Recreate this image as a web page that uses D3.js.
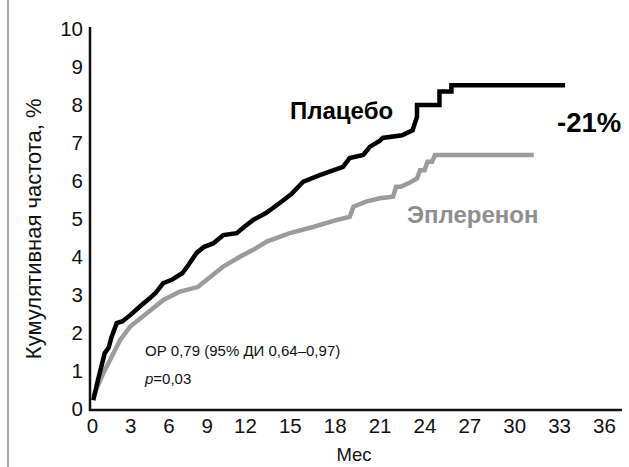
<!DOCTYPE html>
<html><head><meta charset="utf-8">
<script src="https://cdn.jsdelivr.net/npm/d3@7"></script>
<style>
html,body{margin:0;padding:0;background:#fff;}
svg{display:block;font-family:"Liberation Sans",Arial,Helvetica,sans-serif;}
</style></head>
<body>
<svg id="chart" width="629" height="467"></svg>
<script>
// ---- data ----
const xTicks = [0,3,6,9,12,15,18,21,24,27,30,33,36];
const yTicks = [0,1,2,3,4,5,6,7,8,9,10];
// Placebo: [month, cumulative %]
const placebo = [
 [0.1,0.22],[0.5,0.8],[1.0,1.46],[1.3,1.6],[1.55,1.9],[1.94,2.25],[2.4,2.3],[3.0,2.46],[3.8,2.7],[4.55,2.91],
 [5.0,3.05],[5.57,3.3],[6.3,3.4],[7.1,3.57],[7.6,3.8],[8.2,4.1],[8.8,4.26],[9.5,4.35],[10.3,4.57],[11.35,4.62],
 [12.0,4.8],[12.55,4.97],[13.4,5.15],[14.3,5.41],[15.1,5.65],[15.9,5.98],[17.0,6.15],[18.55,6.37],[19.0,6.6],
 [19.9,6.68],[20.36,6.9],[21.0,7.05],[21.2,7.13],[22.5,7.2],[23.2,7.33],[23.5,7.69],[23.5,8.0],[25.0,8.0],
 [25.0,8.35],[25.8,8.35],[25.8,8.52],[33.4,8.52]
];
// Eplerenone
const eplerenone = [
 [0.1,0.31],[0.89,0.93],[1.67,1.45],[2.2,1.8],[3.0,2.16],[4.3,2.51],[5.6,2.86],[6.9,3.08],[8.3,3.2],[9.0,3.39],
 [10.3,3.74],[11.6,4.0],[12.55,4.18],[13.45,4.4],[15.0,4.62],[16.6,4.79],[18.15,4.97],[19.0,5.05],[19.25,5.32],
 [20.1,5.45],[21.0,5.54],[21.9,5.58],[22.1,5.84],[22.4,5.84],[23.0,5.95],[23.5,6.06],[23.7,6.28],[24.0,6.28],
 [24.2,6.5],[24.5,6.5],[24.7,6.68],[31.3,6.68]
];
const seriesLabels = ["Плацебо","Эплеренон"];
const reductionLabel = "-21%";
const statLine1 = "ОР 0,79 (95% ДИ 0,64–0,97)";
const statP = "p", statPval = "=0,03";
const yTitle = "Кумулятивная частота, %";
const xTitle = "Мес";

// ---- layout ----
const svg = d3.select("#chart");
const x = d3.scaleLinear().domain([0,12,36]).range([92,245,604]);
const y = d3.scaleLinear().domain([0,10]).range([408.5,29]);

// left frame line
svg.append("line").attr("x1",8).attr("x2",8).attr("y1",0).attr("y2",467)
  .attr("stroke","#a8a8a8").attr("stroke-width",2);

// axes (labels only)
const gx = svg.append("g").attr("transform",`translate(0,${y(0)+1})`)
  .call(d3.axisBottom(x).tickValues(xTicks).tickSize(0).tickPadding(9).tickFormat(d=>d));
const gy = svg.append("g").attr("transform",`translate(${x(0)-2},0)`)
  .call(d3.axisLeft(y).tickValues(yTicks).tickSize(0).tickPadding(7).tickFormat(d=>d));
[gx,gy].forEach(g=>{
  g.select(".domain").remove();
  g.selectAll("text").attr("font-size",20.5).attr("fill","#111")
   .attr("font-family","'Liberation Sans',Arial,sans-serif");
});

// axis lines
svg.append("line").attr("x1",x(0)-3).attr("x2",x(37.2)).attr("y1",y(0)+1.5).attr("y2",y(0)+1.5)
  .attr("stroke","#111").attr("stroke-width",2.5);
svg.append("line").attr("x1",x(0)-2).attr("x2",x(0)-2).attr("y1",y(10)-2).attr("y2",y(0)+2.5)
  .attr("stroke","#111").attr("stroke-width",2.5);

// curves
const line = d3.line().x(d=>x(d[0])).y(d=>y(d[1]));
svg.append("path").datum(eplerenone).attr("d",line).attr("fill","none")
  .attr("stroke","#9b9b9b").attr("stroke-width",4.5).attr("stroke-linejoin","miter");
svg.append("path").datum(placebo).attr("d",line).attr("fill","none")
  .attr("stroke","#000").attr("stroke-width",4.5).attr("stroke-linejoin","miter");

// titles
svg.append("text").attr("transform",`translate(41,${(y(10)+y(0))/2+10}) rotate(-90)`)
  .attr("text-anchor","middle").attr("font-size",22).attr("fill","#111").text(yTitle);
svg.append("text").attr("x",354).attr("y",461).attr("text-anchor","middle")
  .attr("font-size",18.5).attr("fill","#111").text(xTitle);

// series labels
svg.append("text").attr("x",290).attr("y",119).attr("font-size",24).attr("font-weight","bold")
  .attr("fill","#000").text(seriesLabels[0]);
svg.append("text").attr("x",407).attr("y",223).attr("font-size",24).attr("font-weight","bold")
  .attr("fill","#8e8e8e").text(seriesLabels[1]);
svg.append("text").attr("x",557).attr("y",132).attr("font-size",27.5).attr("font-weight","bold")
  .attr("fill","#000").text(reductionLabel);

// stats
svg.append("text").attr("x",145).attr("y",356).attr("font-size",15).attr("fill","#111").text(statLine1);
const tp = svg.append("text").attr("x",145).attr("y",384).attr("font-size",15).attr("fill","#111");
tp.append("tspan").attr("font-style","italic").text(statP);
tp.append("tspan").text(statPval);
</script>
</body></html>
